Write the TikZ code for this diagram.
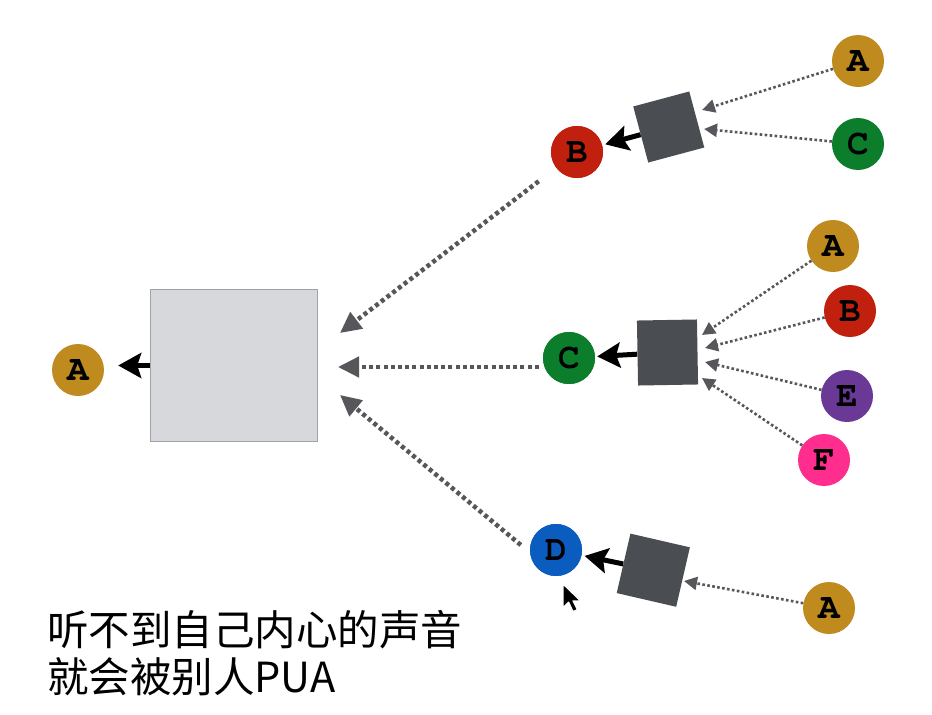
\documentclass[tikz,border=0pt]{standalone}
\usepackage[T1,TU]{fontenc}
\usepackage{fontspec}
\newfontfamily\cjk{Noto Sans CJK SC}
\newcommand{\courb}{\fontencoding{T1}\fontfamily{pcr}\fontseries{b}\selectfont}
\usetikzlibrary{arrows.meta}
\definecolor{cgold}{HTML}{BF8B1F}
\definecolor{cred}{HTML}{C0200D}
\definecolor{cgreen}{HTML}{0B7D2B}
\definecolor{cpurple}{HTML}{6A3996}
\definecolor{cpink}{HTML}{FF2D8E}
\definecolor{cblue}{HTML}{0A5CBF}
\definecolor{csq}{HTML}{4A4D52}
\definecolor{cbig}{HTML}{D7D8DC}
\definecolor{cbigb}{HTML}{A0A2A6}
\definecolor{cdot}{HTML}{55575B}
\tikzset{
  ball/.style={circle, minimum size=52pt, inner sep=0pt, font=\fontsize{36}{36}\courb, text=black},
  sq/.style={draw=none, fill=csq, inner sep=0pt},
  blackarrow/.style={line width=5pt, black, -{Stealth[length=23pt,width=25pt,inset=4pt]}},
  thindot/.style={line width=2.6pt, cdot, dash pattern=on 2.6pt off 2.4pt, -{Triangle[length=13pt,width=13pt]}},
  bigdot/.style={line width=4.5pt, cdot, dash pattern=on 4pt off 3.2pt, -{Triangle[length=21pt,width=20pt]}},
  caption/.style={font=\cjk\fontsize{41.5}{41.5}\selectfont, anchor=base west, inner sep=0pt}
}
\begin{document}
\begin{tikzpicture}[x=1pt,y=-1pt]
\fill[white] (0,0) rectangle (932,715);
\useasboundingbox (0,0) rectangle (932,715);

% big rectangle and final A
\node[draw=cbigb, fill=cbig, line width=1pt, minimum width=167pt, minimum height=152pt, inner sep=0pt] (R) at (233.5,365.5) {};
\node[ball, fill=cgold] (A0) at (78,370) {A};
\draw[blackarrow, shorten >=14pt] (R.west) -- (R.west -| A0.east);

% coordinates for big dotted arrow ends
\coordinate (tB) at (340,333);
\coordinate (tC) at (338,367);
\coordinate (tD) at (340,395);

% squares
\node[sq, minimum size=58pt, rotate=15] (S1) at (668.75,127) {};
\node[sq, minimum width=60pt, minimum height=65pt, rotate=1] (S2) at (667.5,352.5) {};
\node[sq, minimum size=61pt, rotate=-13] (S3) at (653.3,570.2) {};

% tip coordinates on squares
\coordinate (s1a) at (702,110);
\coordinate (s1c) at (704,129);
\coordinate (s2a) at (702,335);
\coordinate (s2b) at (705,348);
\coordinate (s2e) at (705,362);
\coordinate (s2f) at (702,378);
\coordinate (s3a) at (684,581);

% middle circles
\node[ball, fill=cred] (B) at (577,152) {B};
\node[ball, fill=cgreen] (C) at (569,358) {C};
\node[ball, fill=cblue] (D) at (556,550) {D};

% big dotted arrows
\draw[bigdot, shorten <=22pt] (B) -- (tB);
\draw[bigdot] ([xshift=-4pt,yshift=-9pt]C.west) -- (tC);
\draw[bigdot] ([xshift=-9pt,yshift=5pt]D.west) -- (tD);

% redraw circles on top
\node[ball, fill=cred] at (B) {B};
\node[ball, fill=cgreen] at (C) {C};
\node[ball, fill=cblue] at (D) {D};

% black arrows from squares
\draw[blackarrow, shorten >=3pt] (S1) -- (B);
\draw[blackarrow, shorten >=2pt] (S2) -- (C);
\draw[blackarrow, shorten >=3pt] (S3) -- (D);

% right-hand circles
\node[ball, fill=cgold] (RA1) at (858,61) {A};
\node[ball, fill=cgreen] (RC1) at (858,144) {C};
\node[ball, fill=cgold] (RA2) at (833,246) {A};
\node[ball, fill=cred] (RB2) at (850,311) {B};
\node[ball, fill=cpurple] (RE2) at (847,396) {E};
\node[ball, fill=cpink] (RF2) at (824,460) {F};
\node[ball, fill=cgold] (RA3) at (829,608) {A};

% thin dotted arrows
\draw[thindot] (RA1) -- (s1a);
\draw[thindot] (RC1) -- (s1c);
\draw[thindot] (RA2) -- (s2a);
\draw[thindot] (RB2) -- (s2b);
\draw[thindot] (RE2) -- (s2e);
\draw[thindot] (RF2) -- (s2f);
\draw[thindot] (RA3) -- (s3a);

% mouse cursor
\draw[fill=black, draw=white, line width=1.2pt, line join=round, shift={(563,584)}, scale=1.25]
  (0,0) -- (0,19) -- (4.5,14.5) -- (8,22) -- (11.5,20.5) -- (8,13.5) -- (14,13.5) -- cycle;

% caption
\node[caption] (t1) at (47,645) {听不到自己内心的声音};
\node[caption] (t2) at (47,692) {就会被别人PUA};
\end{tikzpicture}
\end{document}
